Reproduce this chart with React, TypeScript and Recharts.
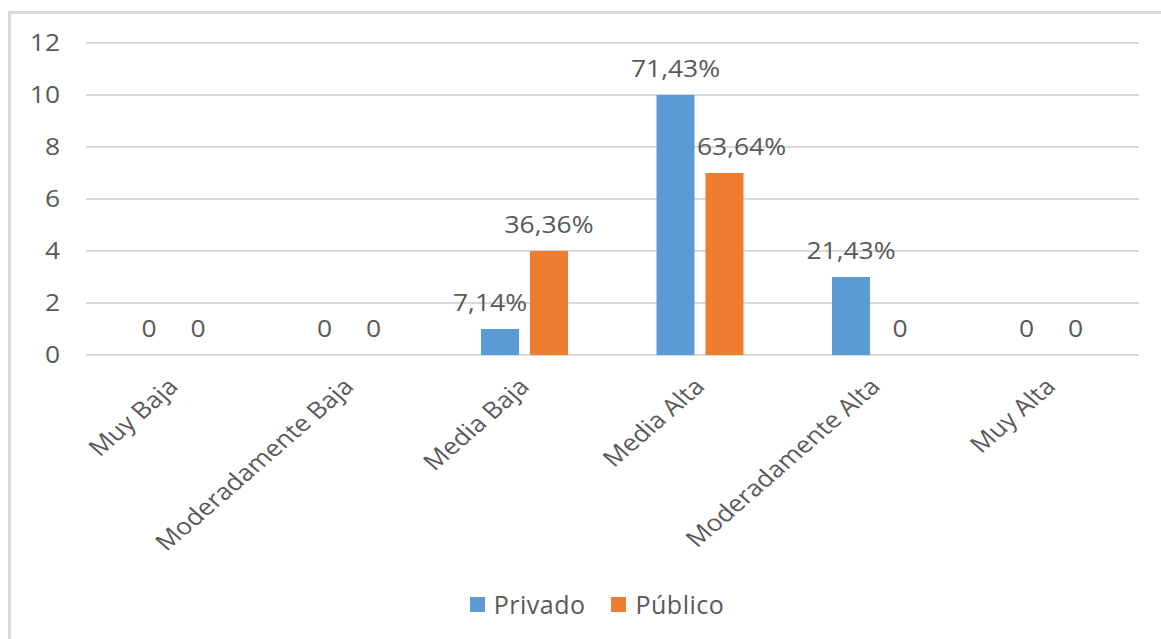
import React from "react";
import {
  BarChart,
  Bar,
  Cell,
  XAxis,
  YAxis,
  CartesianGrid,
  Legend,
  LabelList,
} from "recharts";

const categories = [
  "Muy Baja",
  "Moderadamente Baja",
  "Media Baja",
  "Media Alta",
  "Moderadamente Alta",
  "Muy Alta",
];
const privado = [0, 0, 1, 10, 3, 0];
const publico = [0, 0, 4, 7, 0, 0];
const privadoPct = [0, 0, 7.14, 71.43, 21.43, 0];
const publicoPct = [0, 0, 36.36, 63.64, 0, 0];
const yTicks = [0, 2, 4, 6, 8, 10, 12];

const data = categories.map((name, i) => ({
  name,
  privado: privado[i],
  publico: publico[i],
  privadoPct: privadoPct[i],
  publicoPct: publicoPct[i],
}));

const FONT = "'Open Sans', 'Noto Sans', sans-serif";
const TEXT = "#595959";
const GRID = "#d9d9d9";
const BLUE = "#5b9bd5";
const ORANGE = "#ed7d31";
// the source picture is a bit wider than tall, so text is stretched sideways
const SX = 1.15;

// Excel nudges a couple of labels sideways so they don't collide
const nudge: { [key: string]: number } = {
  "privado-Media Baja": -10,
  "publico-Media Alta": 17,
};

const fmt = (v: number) => (v === 0 ? "0" : v.toFixed(2).replace(".", ",") + "%");

const makeLabel =
  (series: "privado" | "publico", pctKey: "privadoPct" | "publicoPct") => (props: any) => {
    const { x, y, width, height, index } = props;
    const row = data[index];
    if (!row) return null;
    const dx = nudge[`${series}-${row.name}`] || 0;
    const top = row[series] === 0 ? y + height : y;
    return (
      <text
        transform={`translate(${x + width / 2 + dx}, ${top - 18}) scale(${SX}, 1)`}
        textAnchor="middle"
        fill={TEXT}
        fontSize={23}
        fontFamily={FONT}
      >
        {fmt(row[pctKey])}
      </text>
    );
  };

const XTick = (props: any) => {
  const { x, y, payload } = props;
  return (
    <text
      transform={`translate(${x + 6}, ${y + 33}) scale(${SX}, 1) rotate(-45)`}
      textAnchor="end"
      fill={TEXT}
      fontSize={23}
      fontFamily={FONT}
    >
      {payload.value}
    </text>
  );
};

const YTick = (props: any) => {
  const { x, y, payload } = props;
  return (
    <text
      transform={`translate(${x}, ${y}) scale(${SX}, 1)`}
      dy="0.355em"
      textAnchor="end"
      fill={TEXT}
      fontSize={23}
      fontFamily={FONT}
    >
      {payload.value}
    </text>
  );
};

const LegendBox = (props: any) => {
  const { payload } = props;
  return (
    <div
      style={{
        display: "flex",
        justifyContent: "center",
        alignItems: "center",
        paddingLeft: 55,
        height: 34,
        fontFamily: FONT,
        fontSize: 25,
        letterSpacing: 0.5,
        color: TEXT,
      }}
    >
      {(payload || []).map((p: any, i: number) => (
        <div
          key={p.value}
          style={{ display: "flex", alignItems: "center", marginLeft: i === 0 ? 0 : 26 }}
        >
          <span
            style={{
              display: "inline-block",
              width: 15,
              height: 15,
              background: p.color,
              marginRight: 9,
            }}
          />
          <span>{p.value}</span>
        </div>
      ))}
    </div>
  );
};

const App: React.FC = () => {
  return (
    <div
      style={{
        position: "absolute",
        left: 0,
        top: 0,
        width: 1161,
        height: 639,
        overflow: "hidden",
        background: "#fff",
      }}
    >
      <div
        style={{
          position: "absolute",
          left: 8,
          top: 11,
          width: 1200,
          height: 700,
          border: `3px solid ${GRID}`,
          boxSizing: "border-box",
        }}
      />
      <div style={{ position: "absolute", left: 0, top: 0 }}>
        <BarChart
          width={1161}
          height={639}
          data={data}
          margin={{ top: 43, right: 22, bottom: 18, left: 0 }}
          barGap={11}
          barSize={38}
        >
          <CartesianGrid vertical={false} stroke={GRID} strokeWidth={2} />
          <XAxis
            dataKey="name"
            interval={0}
            axisLine={false}
            tickLine={false}
            tickSize={0}
            tickMargin={0}
            height={232}
            tick={<XTick />}
          />
          <YAxis
            width={86}
            domain={[0, 12]}
            ticks={yTicks}
            axisLine={false}
            tickLine={false}
            tickSize={0}
            tickMargin={26}
            tick={<YTick />}
          />
          <Legend verticalAlign="bottom" content={<LegendBox />} />
          <Bar
            dataKey="privado"
            name="Privado"
            fill={BLUE}
            minPointSize={1}
            isAnimationActive={false}
          >
            {data.map((d) => (
              <Cell key={d.name} fill={d.privado === 0 ? "transparent" : BLUE} />
            ))}
            <LabelList dataKey="privado" content={makeLabel("privado", "privadoPct")} />
          </Bar>
          <Bar
            dataKey="publico"
            name="Público"
            fill={ORANGE}
            minPointSize={1}
            isAnimationActive={false}
          >
            {data.map((d) => (
              <Cell key={d.name} fill={d.publico === 0 ? "transparent" : ORANGE} />
            ))}
            <LabelList dataKey="publico" content={makeLabel("publico", "publicoPct")} />
          </Bar>
        </BarChart>
      </div>
    </div>
  );
};

export default App;
